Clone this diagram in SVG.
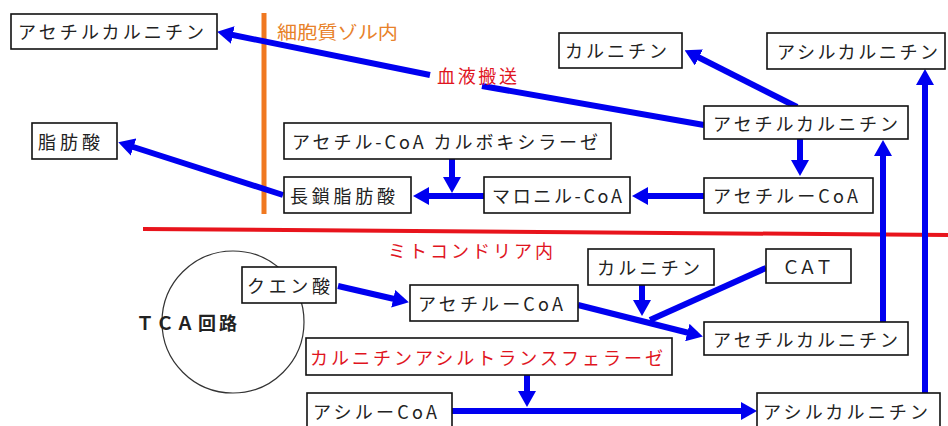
<svg xmlns="http://www.w3.org/2000/svg" width="948" height="426" viewBox="0 0 948 426">
<defs>
<style>
.box{fill:#fff;stroke:#111;stroke-width:1.6}
.t{font-family:"Noto Sans CJK JP","Noto Sans",sans-serif;font-size:18px;fill:#222;dominant-baseline:central}
.red{fill:#e0141e}
.org{fill:#e8822a}
.c{stroke:#0000f0;stroke-width:6;fill:none}
.a{marker-end:url(#ah)}
</style>
<marker id="ah" markerUnits="userSpaceOnUse" markerWidth="16" markerHeight="18" refX="10" refY="9" orient="auto" viewBox="0 0 16 18">
<path d="M0,0 L16,9 L0,18 z" fill="#0000f0"/>
</marker>
</defs>
<rect width="948" height="426" fill="#fff"/>

<g id="boundaries">
<line x1="264" y1="13" x2="264" y2="214" stroke="#f07820" stroke-width="5"/>
<line x1="143" y1="229" x2="948" y2="235" stroke="#e8141c" stroke-width="4"/>
<text class="t org" x="277" y="31" font-size="16" textLength="121" lengthAdjust="spacingAndGlyphs">細胞質ゾル内</text>
<text class="t red" x="388" y="250" font-size="16" textLength="165" lengthAdjust="spacing">ミトコンドリア内</text>
</g>

<g id="tca">
<circle cx="233" cy="322" r="71" fill="none" stroke="#333" stroke-width="1.2"/>
<text class="t" x="136 156 176 198 219" y="322" font-weight="bold" font-size="17" fill="#111">ＴＣＡ回路</text>
</g>

<g id="connectors">
<line class="c" x1="704" y1="125" x2="482" y2="86"/>
<line class="c a" x1="430" y1="75" x2="223" y2="33"/>
<line class="c a" x1="797" y1="107" x2="690" y2="53"/>
<line class="c a" x1="883" y1="322" x2="883" y2="146"/>
<line class="c a" x1="925" y1="393" x2="925" y2="75"/>
<line class="c a" x1="800" y1="139" x2="800" y2="170"/>
<line class="c a" x1="704" y1="196" x2="638" y2="196"/>
<line class="c a" x1="484" y1="196" x2="419" y2="196"/>
<line class="c a" x1="452" y1="159" x2="452" y2="187"/>
<line class="c a" x1="283" y1="195" x2="124" y2="144"/>
<line class="c a" x1="338" y1="286" x2="403" y2="301"/>
<line class="c a" x1="642" y1="285" x2="642" y2="310"/>
<line class="c" x1="766" y1="268" x2="650" y2="320"/>
<line class="c a" x1="578" y1="305" x2="697" y2="335"/>
<line class="c a" x1="527" y1="375" x2="527" y2="401"/>
<line class="c a" x1="452" y1="411" x2="751" y2="411"/>
<text class="t red" x="437" y="75" font-size="16" textLength="80" lengthAdjust="spacing">血液搬送</text>
</g>

<g id="n-acetylcarnitine-top"><rect class="box" x="11" y="14" width="206" height="35"/><text class="t" x="18" y="31" textLength="186" lengthAdjust="spacing">アセチルカルニチン</text></g>
<g id="n-carnitine-top"><rect class="box" x="559" y="33" width="123" height="35"/><text class="t" x="565" y="50" textLength="102" lengthAdjust="spacing">カルニチン</text></g>
<g id="n-acylcarnitine-top"><rect class="box" x="767" y="33" width="178" height="36"/><text class="t" x="777" y="51" textLength="161" lengthAdjust="spacing">アシルカルニチン</text></g>
<g id="n-acetylcarnitine-mid"><rect class="box" x="704" y="106" width="204" height="33"/><text class="t" x="713" y="123" textLength="185" lengthAdjust="spacing">アセチルカルニチン</text></g>
<g id="n-fattyacid"><rect class="box" x="32" y="123" width="85" height="36"/><text class="t" x="38" y="141" textLength="62" lengthAdjust="spacing">脂肪酸</text></g>
<g id="n-acc"><rect class="box" x="284" y="123" width="327" height="36"/><text class="t" x="292" y="141" textLength="306" lengthAdjust="spacing">アセチル-CoA カルボキシラーゼ</text></g>
<g id="n-lcfa"><rect class="box" x="284" y="177" width="127" height="36"/><text class="t" x="290" y="195" textLength="105" lengthAdjust="spacing">長鎖脂肪酸</text></g>
<g id="n-malonyl"><rect class="box" x="484" y="177" width="146" height="36"/><text class="t" x="492" y="195" textLength="130" lengthAdjust="spacing">マロニル-CoA</text></g>
<g id="n-acetylcoa-mid"><rect class="box" x="704" y="178" width="169" height="35"/><text class="t" x="713" y="195" textLength="145" lengthAdjust="spacing">アセチルーCoA</text></g>
<g id="n-citrate"><rect class="box" x="242" y="267" width="94" height="36"/><text class="t" x="247" y="285" textLength="83" lengthAdjust="spacing">クエン酸</text></g>
<g id="n-acetylcoa-low"><rect class="box" x="410" y="285" width="168" height="36"/><text class="t" x="418" y="303" textLength="145" lengthAdjust="spacing">アセチルーCoA</text></g>
<g id="n-carnitine-low"><rect class="box" x="588" y="249" width="126" height="36"/><text class="t" x="597" y="267" textLength="103" lengthAdjust="spacing">カルニチン</text></g>
<g id="n-cat"><rect class="box" x="766" y="249" width="85" height="34"/><text class="t" x="782" y="266" textLength="51" lengthAdjust="spacing">ＣＡＴ</text></g>
<g id="n-acetylcarnitine-low"><rect class="box" x="704" y="322" width="204" height="33"/><text class="t" x="713" y="339" textLength="185" lengthAdjust="spacing">アセチルカルニチン</text></g>
<g id="n-cat-enzyme"><rect class="box" x="306" y="338" width="366" height="37"/><text class="t red" x="310" y="357" textLength="353" lengthAdjust="spacing">カルニチンアシルトランスフェラーゼ</text></g>
<g id="n-acylcoa"><rect class="box" x="307" y="393" width="145" height="36"/><text class="t" x="313" y="411" textLength="124" lengthAdjust="spacing">アシルーCoA</text></g>
<g id="n-acylcarnitine-low"><rect class="box" x="757" y="393" width="183" height="36"/><text class="t" x="763" y="411" textLength="165" lengthAdjust="spacing">アシルカルニチン</text></g>
</svg>
